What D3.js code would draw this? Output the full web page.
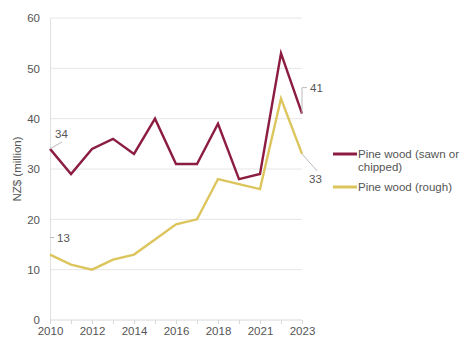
<!DOCTYPE html>
<html>
<head>
<meta charset="utf-8">
<script src="https://cdn.jsdelivr.net/npm/d3@7"></script>
<style>
  html, body { margin: 0; padding: 0; background: #fff; }
  svg { display: block; font-family: "Liberation Sans", Arial, sans-serif; }
</style>
</head>
<body>
<svg id="chart" width="465" height="340"></svg>
<script>
// Export values of pine wood, NZ$ million
const years = ["2010","2011","2012","2013","2014","2015","2016","2017","2018","2019","2021","2022","2023"];
const sawnOrChipped = [34, 29, 34, 36, 33, 40, 31, 31, 39, 28, 29, 53, 41];
const rough = [13, 11, 10, 12, 13, 16, 19, 20, 28, 27, 26, 44, 33];
const yTicks = [0, 10, 20, 30, 40, 50, 60];
const xTickLabels = ["2010","2012","2014","2016","2018","2021","2023"];
const seriesNames = ["Pine wood (sawn or chipped)", "Pine wood (rough)"];
const seriesColors = ["#8c1d40", "#dcc55c"];

const svg = d3.select("#chart");
const margin = { left: 50, right: 163, top: 18, bottom: 20 };
const W = 465, H = 340;

const x = d3.scalePoint().domain(years).range([margin.left, W - margin.right]);
const y = d3.scaleLinear().domain([0, 60]).range([H - margin.bottom, margin.top]);

// horizontal gridlines
svg.append("g").selectAll("line").data(yTicks.filter(d => d > 0)).join("line")
  .attr("x1", margin.left).attr("x2", W - margin.right)
  .attr("y1", d => y(d)).attr("y2", d => y(d))
  .attr("stroke", "#e6e6e6").attr("stroke-width", 1);

// y axis
const yAxis = svg.append("g").attr("transform", `translate(${margin.left},0)`)
  .call(d3.axisLeft(y).tickValues(yTicks).tickSize(0).tickPadding(10));
yAxis.select(".domain").attr("stroke", "#e0e0e0");
yAxis.selectAll("text").attr("fill", "#555").attr("font-size", 11.5)
  .attr("font-family", "Liberation Sans, Arial, sans-serif");

// x axis
const xAxis = svg.append("g").attr("transform", `translate(0,${y(0)})`)
  .call(d3.axisBottom(x).tickSize(4).tickPadding(3)
    .tickFormat(d => xTickLabels.includes(d) ? d : ""));
xAxis.select(".domain").attr("stroke", "#d8d8d8").attr("d", `M${margin.left},0H${W - margin.right}`);
xAxis.selectAll(".tick line").attr("stroke", "#d8d8d8");
xAxis.selectAll("text").attr("fill", "#555").attr("font-size", 11.5)
  .attr("font-family", "Liberation Sans, Arial, sans-serif");

// y axis title
svg.append("text")
  .attr("transform", `translate(21,${y(30)}) rotate(-90)`)
  .attr("text-anchor", "middle")
  .attr("fill", "#555").attr("font-size", 11.5)
  .text("NZ$ (million)");

// lines
const line = d3.line().x((d, i) => x(years[i])).y(d => y(d));
[sawnOrChipped, rough].slice().reverse().forEach((vals, k) => {
  const idx = 1 - k;
  svg.append("path").datum(vals)
    .attr("fill", "none").attr("stroke", seriesColors[idx])
    .attr("stroke-width", 2.4).attr("stroke-linejoin", "miter")
    .attr("d", line);
});

// value labels with leader lines
const first = years[0], last = years[years.length - 1];
const labelG = svg.append("g").attr("fill", "#555").attr("font-size", 11.5);
const leader = "#bbb";

// start of sawn series
svg.append("line").attr("x1", x(first)).attr("y1", y(sawnOrChipped[0]))
  .attr("x2", x(first) + 12).attr("y2", y(sawnOrChipped[0]) - 7)
  .attr("stroke", leader);
labelG.append("text").attr("x", x(first) + 5).attr("y", y(sawnOrChipped[0]) - 11)
  .text(sawnOrChipped[0]);

// start of rough series
svg.append("line").attr("x1", x(first)).attr("y1", y(rough[0]) - 17)
  .attr("x2", x(first) + 4).attr("y2", y(rough[0]) - 17)
  .attr("stroke", leader);
labelG.append("text").attr("x", x(first) + 7).attr("y", y(rough[0]) - 13)
  .text(rough[0]);

// end of sawn series
const sEnd = sawnOrChipped[sawnOrChipped.length - 1];
svg.append("path")
  .attr("d", `M${x(last)},${y(sEnd)}V${y(sEnd) - 26}H${x(last) + 5}`)
  .attr("fill", "none").attr("stroke", leader);
labelG.append("text").attr("x", x(last) + 8).attr("y", y(sEnd) - 22)
  .text(sEnd);

// end of rough series
const rEnd = rough[rough.length - 1];
svg.append("line").attr("x1", x(last)).attr("y1", y(rEnd))
  .attr("x2", x(last) + 15).attr("y2", y(rEnd) + 17)
  .attr("stroke", leader);
labelG.append("text").attr("x", x(last) + 7).attr("y", y(rEnd) + 29)
  .text(rEnd);

// legend
const legend = svg.append("g").attr("transform", "translate(333,154)");
legend.append("line").attr("x1", 0).attr("x2", 24).attr("y1", 0).attr("y2", 0)
  .attr("stroke", seriesColors[0]).attr("stroke-width", 3);
legend.append("text").attr("x", 25).attr("y", 4).attr("fill", "#555").attr("font-size", 11.5)
  .text("Pine wood (sawn or");
legend.append("text").attr("x", 25).attr("y", 17).attr("fill", "#555").attr("font-size", 11.5)
  .text("chipped)");
legend.append("line").attr("x1", 0).attr("x2", 24).attr("y1", 33).attr("y2", 33)
  .attr("stroke", seriesColors[1]).attr("stroke-width", 3);
legend.append("text").attr("x", 25).attr("y", 37).attr("fill", "#555").attr("font-size", 11.5)
  .text(seriesNames[1]);
</script>
</body>
</html>
